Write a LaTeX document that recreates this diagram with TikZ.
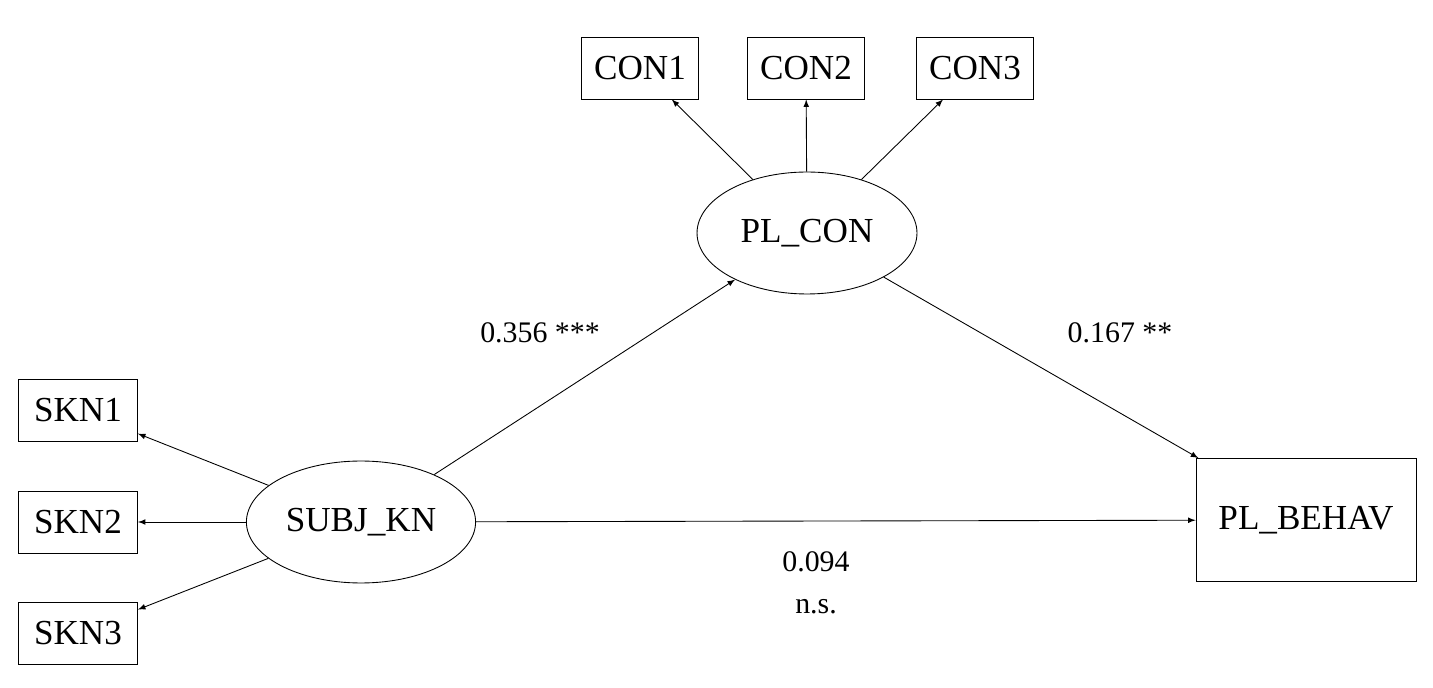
\documentclass[tikz,border=0pt]{standalone}
\usepackage{fontspec}
\setmainfont{Liberation Serif}
\usetikzlibrary{arrows,shapes.geometric}

\begin{document}
\begin{tikzpicture}[x=0.02cm,y=-0.02cm,line width=0.5pt,
    ind/.style={draw,rectangle,align=center,minimum width=2.34cm,minimum height=1.24cm,font=\fontsize{20}{24}\selectfont},
    lat/.style={draw,ellipse,align=center,minimum width=4.4cm,minimum height=2.44cm,font=\fontsize{20}{24}\selectfont},
    coef/.style={font=\fontsize{17}{20}\selectfont}]
      \useasboundingbox (0,0) rectangle (1433,688);
      \node [lat] (plcon) at (807, 233) {PL\_CON};
      \node [lat] (subj) at (361, 522) {SUBJ\_KN};
      \node [ind,minimum width=4.4cm,minimum height=2.46cm] (behav) at (1306, 520) {PL\_BEHAV};

      \node [ind] (con1) at (640, 68) {CON1};
      \node [ind] (con2) at (806, 68) {CON2};
      \node [ind] (con3) at (975, 68) {CON3};
      \node [ind,minimum width=2.38cm] (skn1) at (78, 410) {SKN1};
      \node [ind,minimum width=2.38cm] (skn2) at (78, 522) {SKN2};
      \node [ind,minimum width=2.38cm] (skn3) at (78, 633) {SKN3};

      \draw [-latex] (plcon) -- (con1);
      \draw [-latex] (plcon) -- (con2);
      \draw [-latex] (plcon) -- (con3);
      \draw [-latex] (subj) -- (skn1);
      \draw [-latex] (subj) -- (skn2);
      \draw [-latex] (subj) -- (skn3);

      \draw [-latex] (subj) -- (plcon);
      \draw [-latex] (plcon) -- (behav);
      \draw [-latex] (subj) -- (behav);

      \node [coef] (c1) at (540, 333) {0.356 ***};
      \node [coef] (c2) at (1120, 333) {0.167 **};
      \node [coef,align=center] (c3) at (816, 583) {0.094\\[4pt]n.s.};
    \end{tikzpicture}
\end{document}
